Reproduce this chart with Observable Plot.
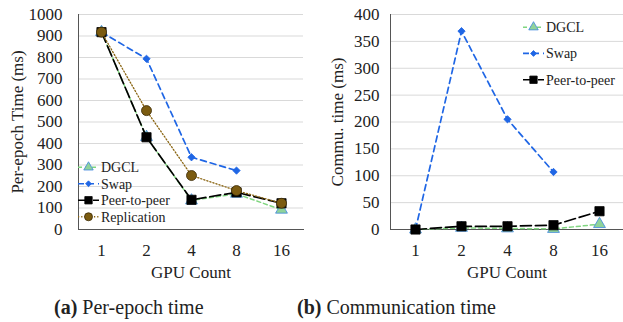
<!DOCTYPE html>
<html>
<head>
<meta charset="utf-8">
<script src="https://cdn.jsdelivr.net/npm/d3@7"></script>
<script src="https://cdn.jsdelivr.net/npm/@observablehq/plot@0.6"></script>
<style>
  body { margin: 0; background: #fff; }
  #wrap { position: relative; width: 623px; height: 322px; font-family: 'Liberation Serif', 'Times New Roman', serif; color: #222; }
  .panel { position: absolute; top: 0; }
  .cap { position: absolute; top: 295px; font-size: 20px; line-height: 24px; white-space: nowrap; font-family: 'Liberation Serif', serif; }
  .legend { position: absolute; }
  svg text { font-family: 'Liberation Serif', 'Times New Roman', serif; }
</style>
</head>
<body>
<div id="wrap"></div>
<script>
// ---- data ----
const gpus = ["1", "2", "4", "8", "16"];
const epochDGCL = [918, 430, 135, 166, 92];
const epochSwap = [918, 794, 336, 274, null];
const epochP2P  = [918, 429, 138, 173, 122];
const epochRepl = [918, 553, 251, 181, 122];
const commDGCL = [0, 3, 2, 1, 10];
const commSwap = [0, 369, 205, 107, null];
const commP2P  = [0, 6, 6, 8, 34];
const epochTicks = [0, 100, 200, 300, 400, 500, 600, 700, 800, 900, 1000];
const commTicks = [0, 50, 100, 150, 200, 250, 300, 350, 400];

// ---- styles ----
const FONT = "'Liberation Serif', 'Times New Roman', serif";
const styles = {
  "DGCL":        {line: "#80d680", dash: "4,3",   sw: 1.5, symbol: "triangle", r: 4.4, fill: "#8fd39a", mstroke: "#3d85e0"},
  "Swap":        {line: "#1f66e5", dash: "6,4",   sw: 1.7, symbol: "diamond2", r: 3.3, fill: "#1f66e5", mstroke: "#1f66e5"},
  "Peer-to-peer":{line: "#000000", dash: "11,4",  sw: 1.7, symbol: "square",   r: 5.2, fill: "#000000", mstroke: "#000000"},
  "Replication": {line: "#8a6512", dash: "1.2,2", sw: 1.3, symbol: "circle",   r: 5.0, fill: "#7b5b10", mstroke: "#3a2a05"}
};

function tidy(name, vals) {
  return gpus.map((g, i) => ({series: name, gpu: g, value: vals[i]}));
}

function seriesMarks(rows) {
  const name = rows[0].series, s = styles[name];
  const def = rows.filter(d => d.value != null);
  return [
    Plot.line(rows, {x: "gpu", y: "value", stroke: s.line, strokeDasharray: s.dash, strokeWidth: s.sw}),
    Plot.dot(def, {x: "gpu", y: "value", symbol: () => s.symbol, r: s.r, fill: s.fill, stroke: s.mstroke, strokeWidth: 0.8})
  ];
}

function chart({width, marginLeft, marginRight, domain, ticks, ylabel, tickPad, titleDx, series}) {
  return Plot.plot({
    width, height: 290,
    marginLeft, marginRight, marginTop: 14, marginBottom: 61,
    style: {fontFamily: FONT, fontSize: "17px", color: "#222", background: "#fff"},
    x: {type: "point", domain: gpus, padding: 0.5},
    y: {domain, ticks},
    symbol: {type: "identity"},
    marks: [
      Plot.gridY(ticks, {stroke: "#d9d9d9", strokeOpacity: 1, strokeWidth: 1}),
      Plot.axisY(ticks, {tickSize: 0, tickPadding: tickPad, label: null, fontSize: 17, tickFormat: d => String(d)}),
      Plot.axisX({tickSize: 0, tickPadding: 14, label: null, fontSize: 17}),
      Plot.frame({anchor: "left", stroke: "#555"}),
      Plot.frame({anchor: "bottom", stroke: "#555"}),
      Plot.text([ylabel], {text: d => d, frameAnchor: "left", dx: titleDx, rotate: -90, textAnchor: "middle", lineAnchor: "middle", fontSize: 17}),
      Plot.text(["GPU Count"], {text: d => d, frameAnchor: "bottom", dy: 43, textAnchor: "middle", lineAnchor: "middle", fontSize: 17}),
      ...series.flatMap(seriesMarks)
    ]
  });
}

function legend(names, x, y, rowH) {
  const svg = d3.create("svg").attr("width", 130).attr("height", names.length * rowH + 4)
    .attr("class", "legend").style("left", x + "px").style("top", y + "px");
  names.forEach((n, i) => {
    const s = styles[n], cy = 2 + rowH / 2 + i * rowH;
    const g = svg.append("g");
    g.append("line").attr("x1", 1).attr("x2", 22).attr("y1", cy).attr("y2", cy)
      .attr("stroke", s.line).attr("stroke-width", s.sw).attr("stroke-dasharray", s.dash);
    const sym = {triangle: d3.symbolTriangle, diamond2: d3.symbolDiamond2, square: d3.symbolSquare, circle: d3.symbolCircle}[s.symbol];
    const lr = s.r * 0.8;
    g.append("path").attr("d", d3.symbol(sym, Math.PI * lr * lr)()).attr("transform", `translate(11.5,${cy})`)
      .attr("fill", s.fill).attr("stroke", s.mstroke).attr("stroke-width", 0.8);
    g.append("text").attr("x", 24).attr("y", cy).attr("dy", "0.35em")
      .attr("font-family", FONT).attr("font-size", 14).attr("fill", "#222").text(n);
  });
  return svg.node();
}

const wrap = document.getElementById("wrap");

const left = chart({
  width: 310, marginLeft: 78, marginRight: 7, domain: [0, 1000], ticks: epochTicks,
  ylabel: "Per-epoch Time (ms)", tickPad: 16, titleDx: -61,
  series: [tidy("DGCL", epochDGCL), tidy("Swap", epochSwap), tidy("Peer-to-peer", epochP2P), tidy("Replication", epochRepl)]
});
left.classList.add("panel"); left.style.left = "0px";
wrap.appendChild(left);

const right = chart({
  width: 313, marginLeft: 80, marginRight: 0, domain: [0, 400], ticks: commTicks,
  ylabel: "Commu. time (ms)", tickPad: 11, titleDx: -53,
  series: [tidy("DGCL", commDGCL), tidy("Swap", commSwap), tidy("Peer-to-peer", commP2P)]
});
right.classList.add("panel"); right.style.left = "310px";
wrap.appendChild(right);

wrap.appendChild(legend(["DGCL", "Swap", "Peer-to-peer", "Replication"], 77, 157, 16.5));
wrap.appendChild(legend(["DGCL", "Swap", "Peer-to-peer"], 522, 12, 26.3));

const capA = document.createElement("div");
capA.className = "cap"; capA.style.left = "54px";
capA.innerHTML = "<b>(a)</b> Per-epoch time";
wrap.appendChild(capA);
const capB = document.createElement("div");
capB.className = "cap"; capB.style.left = "297px";
capB.innerHTML = "<b>(b)</b> Communication time";
wrap.appendChild(capB);
</script>
</body>
</html>
